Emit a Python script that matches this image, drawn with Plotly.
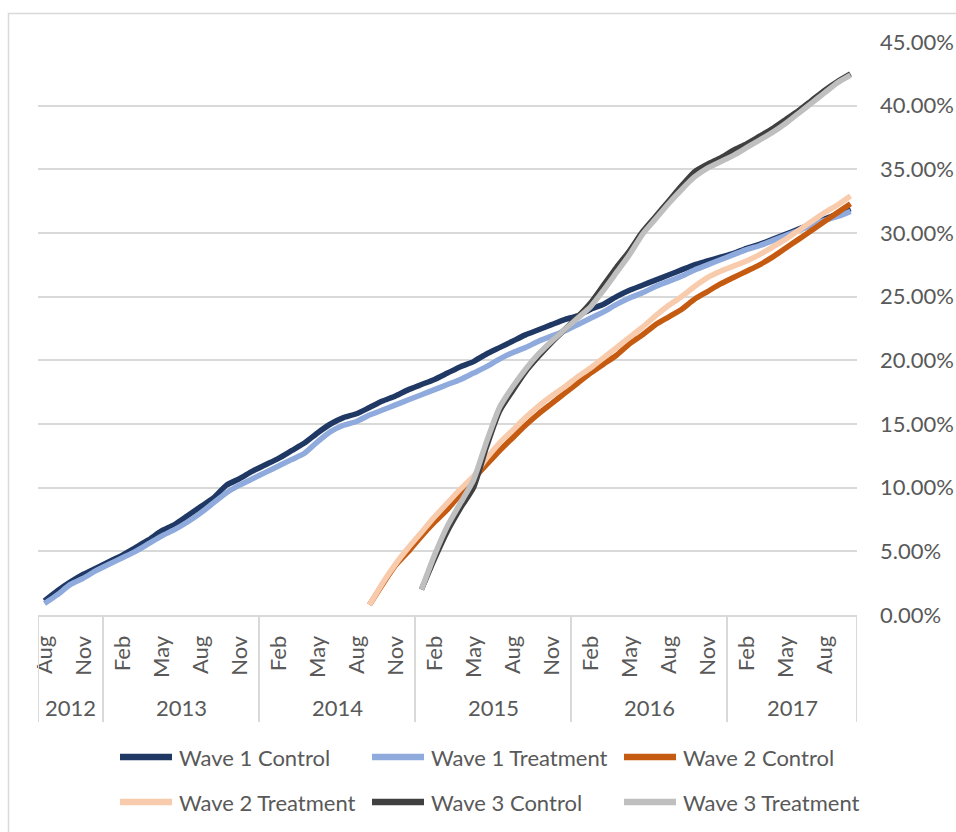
import plotly.graph_objects as go

# ---- categories: monthly, Aug 2012 to Oct 2017 ----
MONTH_ABBR = ["Jan", "Feb", "Mar", "Apr", "May", "Jun",
              "Jul", "Aug", "Sep", "Oct", "Nov", "Dec"]
years = [2012, 2013, 2014, 2015, 2016, 2017]
first_month = (2012, 8)
last_month = (2017, 10)

categories = [(y, m) for y in years for m in range(1, 13)
              if first_month <= (y, m) <= last_month]
cat_index = {c: i for i, c in enumerate(categories)}

# ---- series values (percent) ----
wave1_control = [1.1, 1.9, 2.6, 3.2, 3.7, 4.2, 4.7, 5.3, 5.9, 6.6, 7.1, 7.8,
                 8.5, 9.2, 10.2, 10.7, 11.3, 11.8, 12.3, 12.9, 13.5, 14.3, 15.0, 15.5,
                 15.8, 16.3, 16.8, 17.2, 17.7, 18.1, 18.5, 19.0, 19.5, 19.9, 20.5, 21.0,
                 21.5, 22.0, 22.4, 22.8, 23.2, 23.5, 24.0, 24.4, 25.0, 25.5, 25.9, 26.3,
                 26.7, 27.1, 27.5, 27.8, 28.1, 28.4, 28.8, 29.1, 29.5, 29.9, 30.3, 30.7,
                 31.1, 31.5, 31.9]
wave1_treatment = [0.9, 1.6, 2.4, 2.9, 3.5, 4.0, 4.5, 5.0, 5.6, 6.2, 6.7, 7.3,
                   8.0, 8.8, 9.6, 10.2, 10.7, 11.2, 11.7, 12.2, 12.7, 13.6, 14.4, 14.9,
                   15.2, 15.7, 16.1, 16.5, 16.9, 17.3, 17.7, 18.1, 18.5, 19.0, 19.5, 20.1,
                   20.6, 21.0, 21.5, 21.9, 22.3, 22.8, 23.3, 23.8, 24.4, 24.9, 25.3, 25.8,
                   26.2, 26.6, 27.1, 27.5, 27.9, 28.3, 28.7, 29.0, 29.4, 29.8, 30.2, 30.6,
                   31.0, 31.3, 31.7]
wave2_start = (2014, 9)
wave2_control = [0.8, 2.4, 3.9, 5.0, 6.2, 7.3, 8.3, 9.5, 10.7, 11.8, 12.9, 13.9,
                 14.9, 15.8, 16.6, 17.4, 18.2, 19.0, 19.7, 20.4, 21.3, 22.0, 22.8, 23.4,
                 24.0, 24.8, 25.4, 26.0, 26.5, 27.0, 27.5, 28.1, 28.8, 29.5, 30.2, 30.9,
                 31.6, 32.3]
wave2_treatment = [0.8, 2.5, 4.0, 5.3, 6.5, 7.7, 8.8, 9.9, 10.9, 12.3, 13.5, 14.5,
                   15.5, 16.4, 17.2, 17.9, 18.7, 19.4, 20.2, 21.0, 21.8, 22.6, 23.5, 24.3,
                   25.0, 25.8, 26.5, 27.0, 27.4, 27.8, 28.3, 28.9, 29.5, 30.2, 30.9, 31.6,
                   32.2, 32.9]
wave3_start = (2015, 1)
wave3_control = [2.0, 4.4, 6.6, 8.4, 10.0, 13.2, 16.0, 17.6, 19.1, 20.3, 21.4, 22.4,
                 23.4, 24.5, 25.9, 27.3, 28.6, 30.1, 31.3, 32.5, 33.7, 34.8, 35.4, 35.9,
                 36.5, 37.0, 37.6, 38.2, 38.9, 39.6, 40.4, 41.2, 41.9, 42.5]
wave3_treatment = [2.0, 4.7, 7.0, 8.8, 10.6, 13.6, 16.3, 17.9, 19.3, 20.5, 21.5, 22.4,
                   23.3, 24.2, 25.5, 26.9, 28.3, 29.9, 31.1, 32.3, 33.4, 34.4, 35.1, 35.6,
                   36.1, 36.7, 37.3, 37.9, 38.6, 39.4, 40.2, 41.0, 41.8, 42.4]

series_names = ["Wave 1 Control", "Wave 1 Treatment", "Wave 2 Control",
                "Wave 2 Treatment", "Wave 3 Control", "Wave 3 Treatment"]
series_values = [wave1_control, wave1_treatment, wave2_control,
                 wave2_treatment, wave3_control, wave3_treatment]
series_starts = [first_month, first_month, wave2_start,
                 wave2_start, wave3_start, wave3_start]
series_colors = ["#203864", "#8FAADC", "#C55A11", "#F8CBAD", "#404040", "#BFBFBF"]

y_ticks = [0, 5, 10, 15, 20, 25, 30, 35, 40, 45]
y_tick_text = [f"{v:.2f}%" for v in y_ticks]

# ---- geometry (pixels) ----
W, H = 956, 832
PL, PR, PT, PB = 38, 857, 42, 615
FONT = "Lato"
FSIZE = 22
TXT = "#595959"
GRID = "#D9D9D9"


def px_x(px):
    return (px - PL) / (PR - PL)


def px_y(py):
    return (PB - py) / (PB - PT)


fig = go.Figure()
for name, vals, start, col in zip(series_names, series_values, series_starts, series_colors):
    s = cat_index[start]
    fig.add_trace(go.Scatter(
        x=list(range(s, s + len(vals))), y=vals, name=name, mode="lines",
        line=dict(color=col, width=5.5, shape="spline", smoothing=0.6),
        showlegend=False, hoverinfo="skip"))

# month tick labels every third month, starting with the first category
tick_idx = list(range(0, len(categories), 3))
tick_txt = [MONTH_ABBR[categories[i][1] - 1] for i in tick_idx]

shapes = []
annotations = []

# year group dividers and labels
bounds = [-0.5]
for y in years:
    idx = [i for i, c in enumerate(categories) if c[0] == y]
    bounds.append(idx[-1] + 0.5)
    annotations.append(dict(x=(idx[0] + idx[-1]) / 2, y=px_y(707), xref="x", yref="paper",
                            text=str(y), showarrow=False, xanchor="center", yanchor="middle",
                            font=dict(family=FONT, size=FSIZE, color=TXT)))
for b in bounds:
    shapes.append(dict(type="line", xref="x", yref="paper", x0=b, x1=b,
                       y0=0, y1=px_y(722), line=dict(color=GRID, width=2)))

# chart-area border
shapes.append(dict(type="rect", xref="paper", yref="paper",
                   x0=px_x(8.5), x1=px_x(W + 5), y0=px_y(13.5), y1=px_y(H + 5),
                   line=dict(color=GRID, width=1.5), fillcolor="rgba(0,0,0,0)", layer="below"))

# legend: two rows of three entries
for k, (name, col) in enumerate(zip(series_names, series_colors)):
    r, c = divmod(k, 3)
    ly = 757 + 45 * r
    x0 = 120 + 252 * c
    shapes.append(dict(type="line", xref="paper", yref="paper",
                       x0=px_x(x0), x1=px_x(x0 + 52), y0=px_y(ly), y1=px_y(ly),
                       line=dict(color=col, width=6.5)))
    annotations.append(dict(x=px_x(x0 + 57), y=px_y(ly), xref="paper", yref="paper",
                            text=name, showarrow=False, xanchor="left", yanchor="middle",
                            font=dict(family=FONT, size=FSIZE, color=TXT)))

fig.update_layout(
    width=W, height=H,
    margin=dict(l=PL, r=W - PR, t=PT, b=H - PB, autoexpand=False),
    paper_bgcolor="white", plot_bgcolor="white",
    font=dict(family=FONT, size=FSIZE, color=TXT),
    xaxis=dict(range=[-0.5, len(categories) - 0.5], tickmode="array",
               tickvals=tick_idx, ticktext=tick_txt, tickangle=-90,
               showgrid=False, zeroline=False, showline=True, linecolor=GRID,
               linewidth=2, ticks="", ticklabelstandoff=10,
               tickfont=dict(family=FONT, size=FSIZE, color=TXT), fixedrange=True),
    yaxis=dict(range=[0, 45], tickmode="array", tickvals=y_ticks, ticktext=y_tick_text,
               side="right", showgrid=True, gridcolor=GRID, gridwidth=2,
               zeroline=False, showline=False, ticks="", ticklabelstandoff=22,
               tickfont=dict(family=FONT, size=FSIZE, color=TXT), fixedrange=True),
    shapes=shapes, annotations=annotations,
)

fig.write_html("out.html")
